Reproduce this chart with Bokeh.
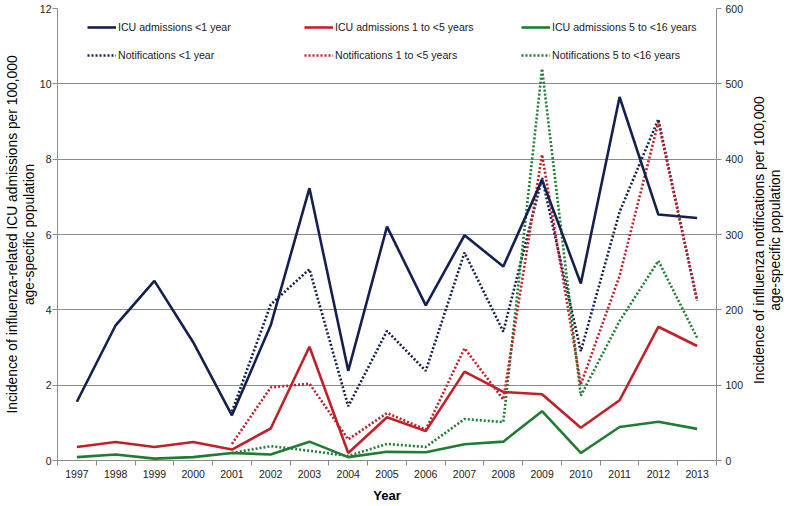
import math
from bokeh.plotting import figure
from bokeh.models import (Range1d, LinearAxis, FixedTicker, Legend, LegendItem, Label)
from bokeh.embed import file_html
from bokeh.resources import INLINE

years = list(range(1997, 2014))
icu_lt1 = [1.56, 3.59, 4.77, 3.14, 1.20, 3.59, 7.23, 2.38, 6.21, 4.12, 5.98, 5.15, 7.45, 4.70, 9.65, 6.53, 6.44]
icu_1_5 = [0.36, 0.49, 0.36, 0.49, 0.29, 0.85, 3.02, 0.20, 1.15, 0.78, 2.36, 1.82, 1.76, 0.87, 1.60, 3.55, 3.04]
icu_5_16 = [0.09, 0.16, 0.05, 0.09, 0.20, 0.16, 0.50, 0.09, 0.23, 0.22, 0.43, 0.50, 1.31, 0.20, 0.89, 1.03, 0.84]

notif_years = list(range(2001, 2014))
notif_lt1 = [65, 207, 254, 72, 172, 119, 276, 171, 375, 145, 330, 453, 212]
notif_1_5 = [22, 97, 102, 28, 63, 41, 149, 81, 406, 101, 245, 449, 213]
notif_5_16 = [10, 19, 13, 6, 22, 18, 55, 51, 520, 86, 185, 265, 163]

left_ticks = [0, 2, 4, 6, 8, 10, 12]
right_ticks = [0, 100, 200, 300, 400, 500, 600]

left_title = "Incidence of influenza-related ICU admissions per 100,000\nage-specific population"
right_title = "Incidence of influenza notifications per 100,000\nage-specific population"
x_title = "Year"

NAVY = "#14204f"
RED = "#c0202a"
GREEN = "#1f7d32"
FONT = "Liberation Sans"
AX = "#8c8c8c"
TITLE_SIZE = "13.8px"

p = figure(width=784, height=505, output_backend="svg", toolbar_location=None,
           x_range=Range1d(years[0] - 0.5, years[-1] + 0.5), y_range=Range1d(0, 12),
           min_border_left=57, min_border_right=68, min_border_top=8, min_border_bottom=39)
p.outline_line_color = None
p.background_fill_color = "white"
p.extra_y_ranges = {"notif": Range1d(0, 600)}

# x axis
xa = p.xaxis[0]
xa.ticker = FixedTicker(ticks=years, minor_ticks=[y - 0.5 for y in years] + [years[-1] + 0.5])
xa.major_tick_out = 0
xa.major_tick_in = 0
xa.minor_tick_out = 5
xa.minor_tick_in = 0
xa.minor_tick_line_color = AX
xa.axis_line_color = AX
xa.major_label_text_font = FONT
xa.major_label_text_font_size = "10.5px"
xa.major_label_text_color = "#222222"
xa.major_label_standoff = 4
xa.axis_label = x_title
xa.axis_label_text_font = FONT
xa.axis_label_text_font_size = "13px"
xa.axis_label_text_font_style = "bold"
xa.axis_label_text_color = "#000000"
xa.axis_label_standoff = 7

# left axis
ya = p.yaxis[0]
ya.ticker = FixedTicker(ticks=left_ticks)
ya.minor_tick_line_color = None
ya.major_tick_out = 5
ya.major_tick_in = 0
ya.major_tick_line_color = AX
ya.axis_line_color = AX
ya.major_label_text_font = FONT
ya.major_label_text_font_size = "10.5px"
ya.major_label_text_color = "#222222"
ya.major_label_standoff = 1
ya.axis_label = left_title
ya.axis_label_text_font = FONT
ya.axis_label_text_font_size = TITLE_SIZE
ya.axis_label_text_line_height = 1.1
ya.axis_label_text_font_style = "normal"
ya.axis_label_text_color = "#000000"
ya.axis_label_standoff = 0

# right axis (ticks and labels)
ra = LinearAxis(y_range_name="notif", ticker=FixedTicker(ticks=right_ticks))
ra.minor_tick_line_color = None
ra.major_tick_out = 5
ra.major_tick_in = 0
ra.major_tick_line_color = AX
ra.axis_line_color = AX
ra.major_label_text_font = FONT
ra.major_label_text_font_size = "10.5px"
ra.major_label_text_color = "#222222"
ra.major_label_standoff = 4
p.add_layout(ra, "right")

# right axis title, reading bottom-to-top like the reference
rt = Label(x=years[-1] + 0.5, y=5.85, x_offset=35, text=right_title, angle=math.pi / 2,
           text_align="center", text_baseline="top", text_font=FONT,
           text_font_size=TITLE_SIZE, text_color="#000000", text_line_height=1.1)
p.add_layout(rt, "right")

p.xgrid.grid_line_color = None
p.ygrid.ticker = FixedTicker(ticks=left_ticks)
p.ygrid.grid_line_color = AX
p.ygrid.grid_line_width = 1

LW = 2.6
DASH = "2 2"
r_n1 = p.line(notif_years, notif_lt1, y_range_name="notif", line_color=NAVY, line_width=LW, line_dash=DASH)
r_n5 = p.line(notif_years, notif_5_16, y_range_name="notif", line_color=GREEN, line_width=LW, line_dash=DASH)
r_n2 = p.line(notif_years, notif_1_5, y_range_name="notif", line_color=RED, line_width=LW, line_dash=DASH)
r_i5 = p.line(years, icu_5_16, line_color=GREEN, line_width=LW)
r_i2 = p.line(years, icu_1_5, line_color=RED, line_width=LW)
r_i1 = p.line(years, icu_lt1, line_color=NAVY, line_width=LW)

cols = [
    (30, [("ICU admissions <1 year", r_i1), ("Notifications <1 year", r_n1)]),
    (247, [("ICU admissions 1 to <5 years", r_i2), ("Notifications 1 to <5 years", r_n2)]),
    (464, [("ICU admissions 5 to <16 years", r_i5), ("Notifications 5 to <16 years", r_n5)]),
]
for x0, items in cols:
    lg = Legend(items=[LegendItem(label=t, renderers=[r]) for t, r in items],
                location=(x0, 398), orientation="vertical",
                glyph_width=29, glyph_height=14, label_height=14, spacing=14,
                label_standoff=2, padding=0, margin=0,
                border_line_color=None, background_fill_alpha=0,
                label_text_font=FONT, label_text_font_size="10.6px", label_text_color="#1a1a1a")
    p.add_layout(lg)

open("out.html", "w").write(file_html(p, INLINE))
